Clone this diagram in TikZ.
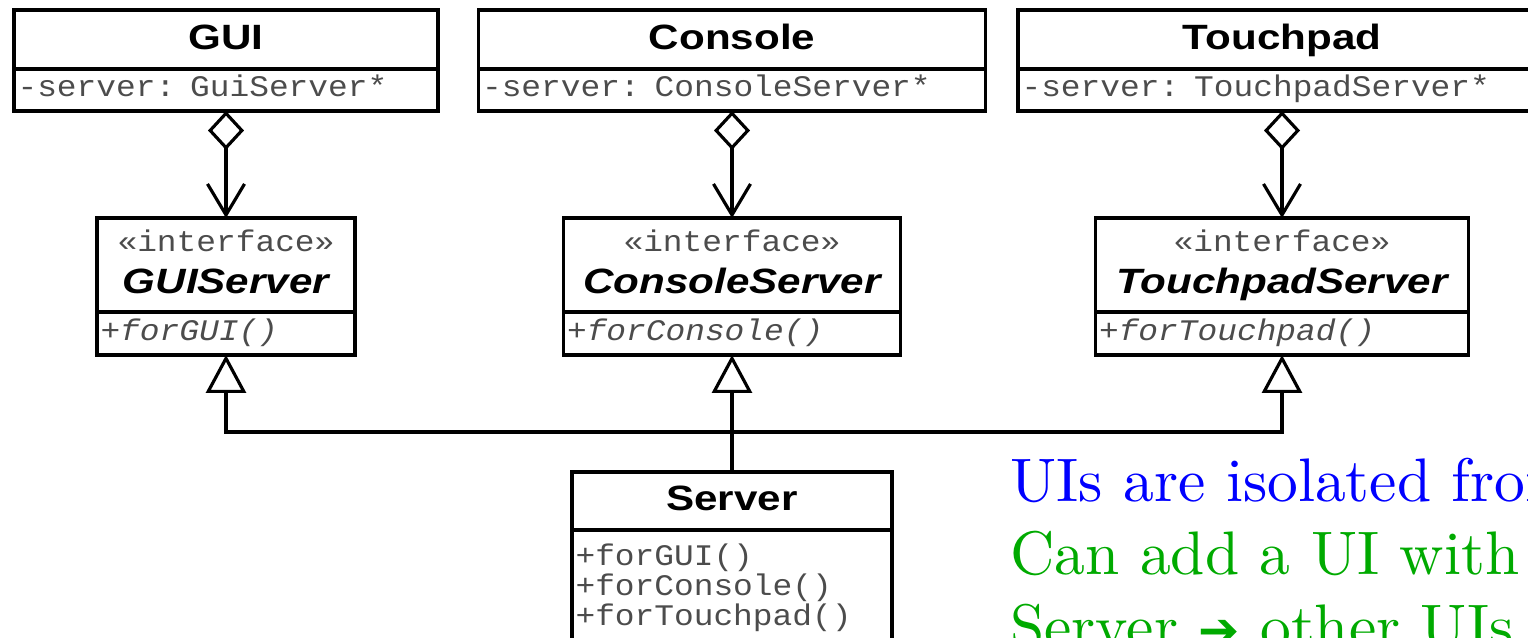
\documentclass[tikz,border=0pt]{standalone}
\usepackage{fontspec}
\usepackage{xcolor}
\usetikzlibrary{arrows.meta,positioning}
\newfontfamily\umlsans[FakeStretch=1.2]{Liberation Sans}
\newfontfamily\umlmono[Scale=0.85,FakeStretch=1.1]{Liberation Mono}
\newfontfamily\arrowfont{DejaVu Sans}
\newfontfamily\notefont{lmroman10-regular.otf}
\definecolor{noteBlue}{RGB}{0,0,255}
\definecolor{noteGreen}{RGB}{0,170,0}
\definecolor{umlGray}{gray}{0.3}

\begin{document}
\begin{tikzpicture}[x=0.02cm,y=-0.02cm,
  box/.style={draw,line width=2.2pt,outer sep=0pt},
  hdr/.style={box,inner sep=0pt,text height=15pt,text depth=4pt,font=\fontsize{20}{24}\selectfont\umlsans\bfseries},
  ifc/.style={box,inner sep=0pt,align=center,font=\fontsize{20}{24}\selectfont},
  sec/.style={box,inner xsep=0.07cm,inner ysep=0pt,align=left,text=umlGray,font=\fontsize{20}{17}\selectfont\umlmono},
  attr/.style={sec,text height=11pt,text depth=3.5pt},
  op/.style={attr,font=\fontsize{20}{17}\selectfont\umlmono\itshape},
  agg/.style={line width=1.8pt,{Diamond[open,length=0.78cm,width=0.72cm]}-{Straight Barb[length=0.62cm,width=0.74cm]}},
  gen/.style={line width=1.8pt,-{Triangle[open,length=0.76cm,width=0.8cm]}},
  note/.style={anchor=base west,inner sep=0pt,font=\fontsize{35}{41.5}\selectfont\notefont}]
\useasboundingbox (0,0) rectangle (1528,637);
\clip (0,0) rectangle (1528,637);
% --- user interfaces ---
\node[hdr,minimum width=8.48cm,minimum height=1.18cm] (gui) at (226,39.5) {GUI};
\node[attr,text width=8.34cm,minimum height=0.84cm,below=0pt of gui] (guiA) {-server: GuiServer*};
\node[hdr,minimum width=10.14cm,minimum height=1.18cm] (con) at (732,39.5) {Console};
\node[attr,text width=10.0cm,minimum height=0.84cm,below=0pt of con] (conA) {-server: ConsoleServer*};
\node[hdr,minimum width=10.56cm,minimum height=1.18cm] (tch) at (1282,39.5) {Touchpad};
\node[attr,text width=10.42cm,minimum height=0.84cm,below=0pt of tch] (tchA) {-server: TouchpadServer*};
% --- interfaces ---
\node[ifc,minimum width=5.16cm,minimum height=1.88cm] (gs) at (226,265)
  {{\umlmono\color{umlGray}«interface»}\\{\umlsans\bfseries\itshape GUIServer\vphantom{p}}};
\node[op,text width=5.02cm,minimum height=0.86cm,below=0pt of gs] (gsM) {+forGUI()};
\node[ifc,minimum width=6.74cm,minimum height=1.88cm] (cs) at (732,265)
  {{\umlmono\color{umlGray}«interface»}\\{\umlsans\bfseries\itshape ConsoleServer\vphantom{p}}};
\node[op,text width=6.60cm,minimum height=0.86cm,below=0pt of cs] (csM) {+forConsole()};
\node[ifc,minimum width=7.46cm,minimum height=1.88cm] (ts) at (1282,265)
  {{\umlmono\color{umlGray}«interface»}\\{\umlsans\bfseries\itshape TouchpadServer}};
\node[op,text width=7.32cm,minimum height=0.86cm,below=0pt of ts] (tsM) {+forTouchpad()};
% --- server ---
\node[hdr,minimum width=6.4cm,minimum height=1.16cm] (srv) at (732,501) {Server};
\node[sec,text width=6.26cm,inner ysep=8pt,below=0pt of srv] (srvM) {+forGUI()\\+forConsole()\\+forTouchpad()};
% aggregation
\draw[agg] (guiA.south) -- (gs.north);
\draw[agg] (conA.south) -- (cs.north);
\draw[agg] (tchA.south) -- (ts.north);
% realization
\coordinate (bus) at (732,432);
\draw[gen] (srv.north) -- (csM.south);
\draw[gen] (bus) -| (gsM.south);
\draw[gen] (bus) -| (tsM.south);
% notes
\node[note,text=noteBlue] (noteA) at (1010,501) {UIs are isolated from};
\node[note,text=noteGreen] (noteB) at (1010,574) {Can add a UI with};
\node[note,text=noteGreen] (noteC) at (1010,647) {Server {\arrowfont\fontsize{28}{30}\selectfont ➔} other UIs};
\end{tikzpicture}
\end{document}
